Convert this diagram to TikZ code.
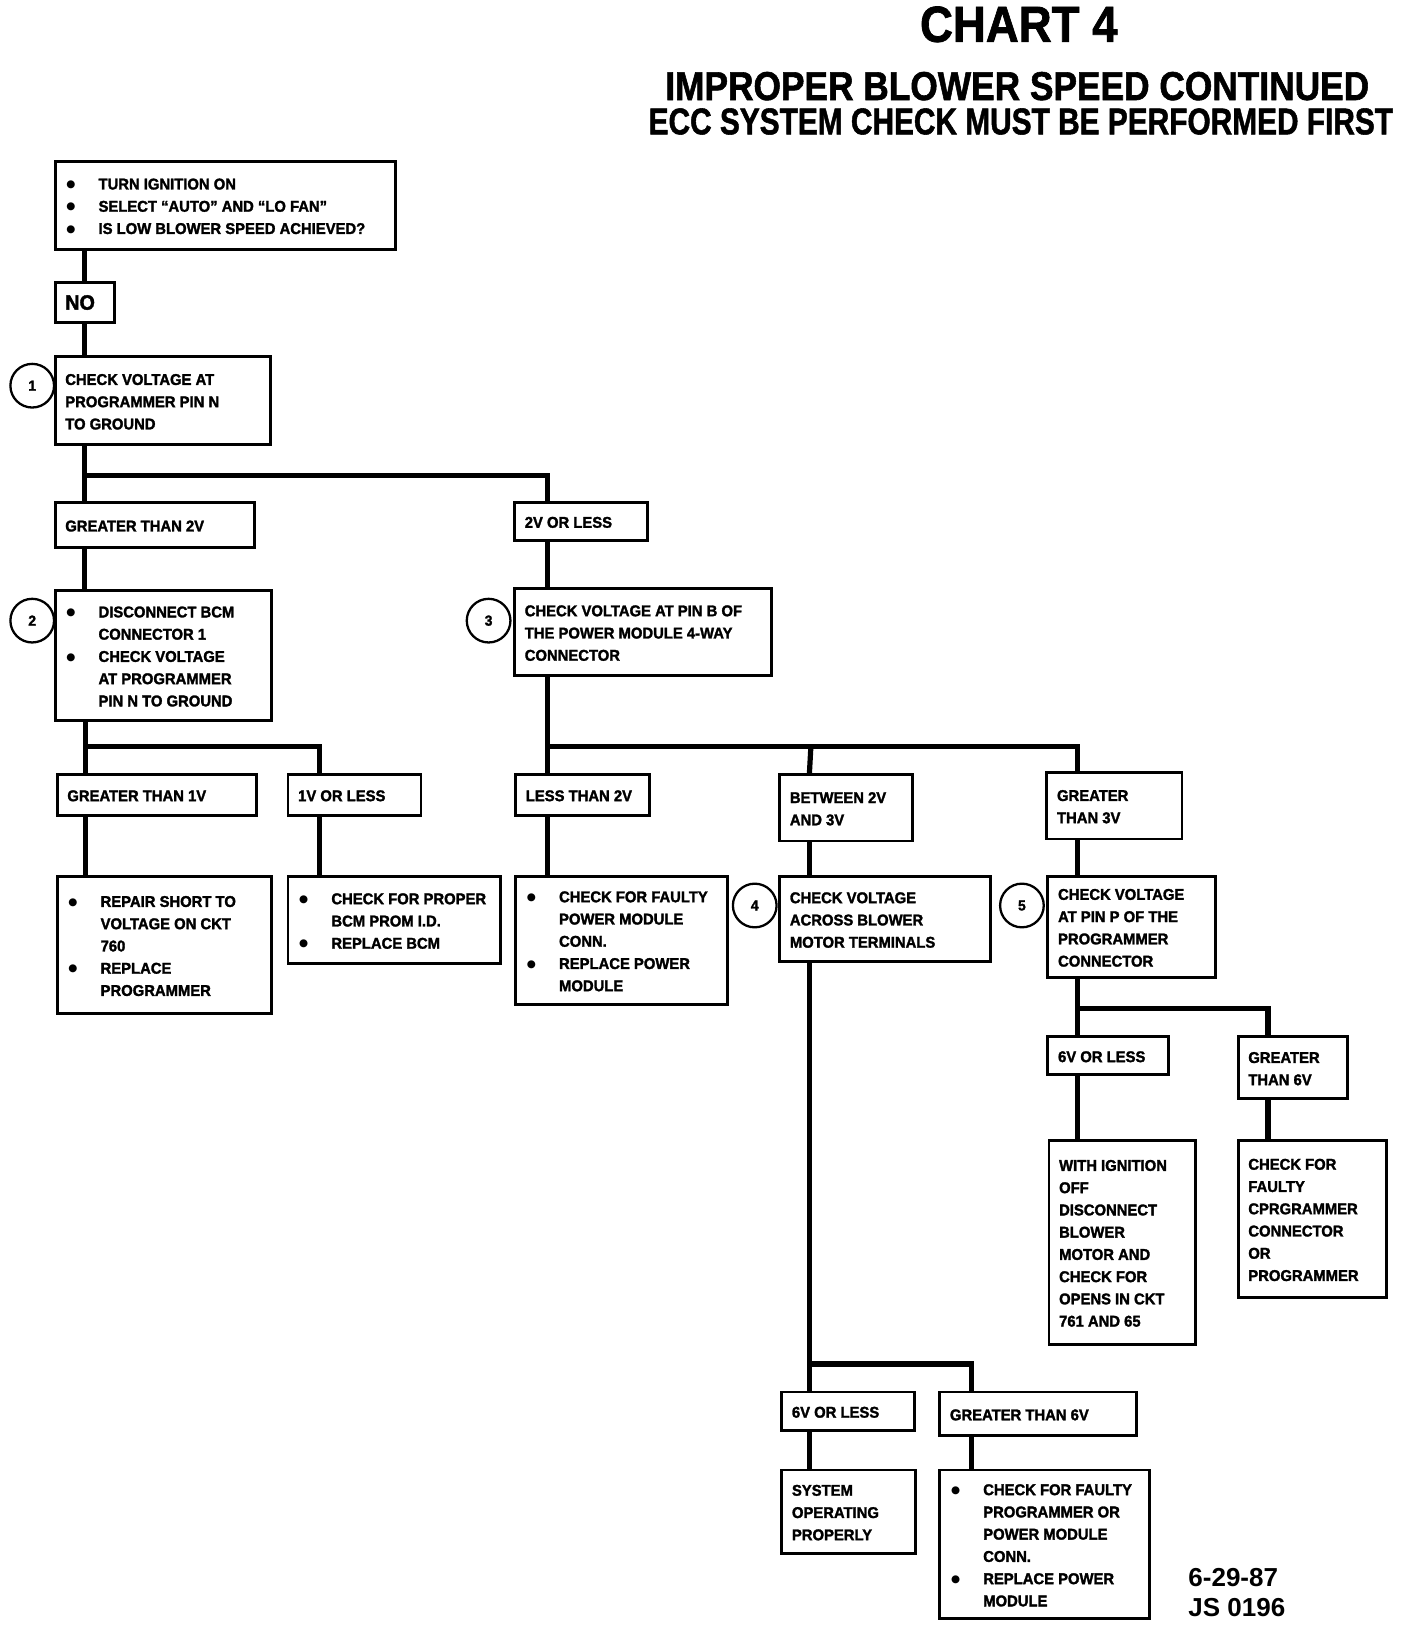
\documentclass[tikz,border=0pt]{standalone}
\usepackage{fontspec}
\usepackage{graphicx}
\newfontfamily\bxf[FakeStretch=0.95,FakeBold=1.8]{Liberation Sans}
\newfontfamily\hdf[FakeBold=1.5]{Liberation Sans}
\newfontfamily\ftf{Liberation Sans}
\newfontfamily\djv{DejaVu Sans}
\newcommand\bul{\makebox[32pt][l]{\hspace{1pt}\raisebox{1.8pt}{\djv\fontsize{10}{10}\selectfont ●}}}
\newcommand\ind{\hspace*{32pt}}
\tikzset{
 box/.style={draw, line width=2.8pt, inner sep=0pt, fill=white},
 txt/.style={inner sep=0pt, align=left, anchor=west, font=\bxf\bfseries\fontsize{15}{21.4}\selectfont},
 conn/.style={line width=5pt},
 circ/.style={circle, draw, line width=2.2pt, minimum size=42pt, inner sep=0pt, fill=white, font=\bxf\bfseries\fontsize{14}{14}\selectfont},
 foot/.style={anchor=north west, inner sep=0pt, font=\ftf\bfseries\fontsize{25}{25}\selectfont},
}
\newcommand\bx[6]{%
 \node[box, minimum width={(#4)-(#2)}, minimum height={(#5)-(#3)}] (#1) at ({((#2)+(#4))/2},{((#3)+(#5))/2}) {};
 \node[txt] (#1t) at ([xshift=11pt,yshift=-1pt]#1.west) {#6};
}
\begin{document}
\begin{tikzpicture}[x=1pt,y=-1pt]
\fill[white] (0,0) rectangle (1354,1566);
\useasboundingbox (0,0) rectangle (1354,1566);
% titles
\node[anchor=north, inner sep=0pt] (t1) at (980,6) {\resizebox{190pt}{34pt}{\hdf\bfseries CHART 4}};
\node[anchor=north, inner sep=0pt] (t2) at (978.5,69) {\resizebox{677pt}{27pt}{\hdf\bfseries IMPROPER BLOWER SPEED CONTINUED}};
\node[anchor=north, inner sep=0pt] (t3) at (982,104) {\resizebox{716pt}{25pt}{\hdf\bfseries ECC SYSTEM CHECK MUST BE PERFORMED FIRST}};
% boxes
\bx{A}{53}{155}{380}{240}{\bul TURN IGNITION ON\\ \bul SELECT “AUTO” AND “LO FAN”\\ \bul IS LOW BLOWER SPEED ACHIEVED?}
\node[box, minimum width=57pt, minimum height=38pt] (NO) at (81.5,291) {};
\node[txt, font=\bxf\bfseries\fontsize{20}{20}\selectfont] (NOt) at ([xshift=11pt]NO.west) {NO};
\bx{B1}{53}{343}{260}{428}{CHECK VOLTAGE AT\\ PROGRAMMER PIN N\\ TO GROUND}
\bx{G2}{53}{483}{245}{527}{GREATER THAN 2V}
\bx{L2}{495}{483}{623}{520}{2V OR LESS}
\bx{B2}{53}{568}{261}{693}{\bul DISCONNECT BCM\\ \ind CONNECTOR 1\\ \bul CHECK VOLTAGE\\ \ind AT PROGRAMMER\\ \ind PIN N TO GROUND}
\bx{B3}{495}{566}{742}{650}{CHECK VOLTAGE AT PIN B OF\\ THE POWER MODULE 4-WAY\\ CONNECTOR}
\bx{G1}{55}{745}{247}{784}{GREATER THAN 1V}
\bx{L1}{277}{745}{405}{784}{1V OR LESS}
\bx{R1}{55}{843}{261}{975}{\bul REPAIR SHORT TO\\ \ind VOLTAGE ON CKT\\ \ind 760\\ \bul REPLACE\\ \ind PROGRAMMER}
\bx{R2}{277}{843}{481}{927}{\bul CHECK FOR PROPER\\ \ind BCM PROM I.D.\\ \bul REPLACE BCM}
\bx{LT2}{496}{745}{625}{784}{LESS THAN 2V}
\bx{BT}{750}{745}{878}{809}{BETWEEN 2V\\ AND 3V}
\bx{GT3}{1007}{743}{1137}{807}{GREATER\\ THAN 3V}
\bx{P}{496}{843}{700}{966}{\bul CHECK FOR FAULTY\\ \ind POWER MODULE\\ \ind CONN.\\ \bul REPLACE POWER\\ \ind MODULE}
\bx{B4}{750}{843}{953}{925}{CHECK VOLTAGE\\ ACROSS BLOWER\\ MOTOR TERMINALS}
\bx{B5}{1008}{843}{1169}{940}{CHECK VOLTAGE\\ AT PIN P OF THE\\ PROGRAMMER\\ CONNECTOR}
\bx{L6a}{1008}{997}{1124}{1034}{6V OR LESS}
\bx{G6a}{1191}{997}{1296}{1057}{GREATER\\ THAN 6V}
\bx{W}{1009}{1097}{1150}{1293}{WITH IGNITION\\ OFF\\ DISCONNECT\\ BLOWER\\ MOTOR AND\\ CHECK FOR\\ OPENS IN CKT\\ 761 AND 65}
\bx{C}{1191}{1097}{1334}{1248}{CHECK FOR\\ FAULTY\\ CPRGRAMMER\\ CONNECTOR\\ OR\\ PROGRAMMER}
\bx{L6b}{752}{1339}{880}{1376}{6V OR LESS}
\bx{G6b}{904}{1339}{1093}{1381}{GREATER THAN 6V}
\bx{S}{752}{1414}{881}{1494}{SYSTEM\\ OPERATING\\ PROPERLY}
\bx{F}{904}{1414}{1106}{1557}{\bul CHECK FOR FAULTY\\ \ind PROGRAMMER OR\\ \ind POWER MODULE\\ \ind CONN.\\ \bul REPLACE POWER\\ \ind MODULE}
% circles
\node[circ] (c1) at (31,371) {1};
\node[circ] (c2) at (31,597) {2};
\node[circ] (c3) at (470,597) {3};
\node[circ] (c4) at (726,871) {4};
\node[circ] (c5) at (983,871) {5};
% junctions
\coordinate (j1) at (83,457);
\coordinate (j2) at (84,718);
\coordinate (j3) at (528,718);
\coordinate (j4) at (780,718);
\coordinate (j5) at (1038,970);
\coordinate (j6) at (780,1312);
% connectors
\draw[conn] ([xshift=30pt]A.south west) -- ([xshift=30pt]NO.north west);
\draw[conn] ([xshift=30pt]NO.south west) -- ([xshift=30pt]B1.north west);
\draw[conn] ([xshift=30pt]B1.south west) -- ([xshift=30pt]G2.north west);
\draw[conn] (j1) -| ([xshift=33pt]L2.north west);
\draw[conn] ([xshift=30pt]G2.south west) -- ([xshift=30pt]B2.north west);
\draw[conn] ([xshift=33pt]L2.south west) -- ([xshift=33pt]B3.north west);
\draw[conn] ([xshift=31pt]B2.south west) -- ([xshift=29pt]G1.north west);
\draw[conn] (j2) -| ([xshift=32pt]L1.north west);
\draw[conn] ([xshift=29pt]G1.south west) -- ([xshift=29pt]R1.north west);
\draw[conn] ([xshift=32pt]L1.south west) -- ([xshift=32pt]R2.north west);
\draw[conn] ([xshift=33pt]B3.south west) -- ([xshift=32pt]LT2.north west);
\draw[conn] (j3) -| ([xshift=31pt]GT3.north west);
\draw[conn] (j4) -- ([xshift=30pt]BT.north west);
\draw[conn] ([xshift=32pt]LT2.south west) -- ([xshift=32pt]P.north west);
\draw[conn] ([xshift=30pt]BT.south west) -- ([xshift=30pt]B4.north west);
\draw[conn] ([xshift=31pt]GT3.south west) -- ([xshift=30pt]B5.north west);
\draw[conn] ([xshift=30pt]B5.south west) -- ([xshift=30pt]L6a.north west);
\draw[conn] (j5) -| ([xshift=30pt]G6a.north west);
\draw[conn] ([xshift=30pt]L6a.south west) -- ([xshift=29pt]W.north west);
\draw[conn] ([xshift=30pt]G6a.south west) -- ([xshift=30pt]C.north west);
\draw[conn] ([xshift=30pt]B4.south west) -- ([xshift=28pt]L6b.north west);
\draw[conn] (j6) -| ([xshift=32pt]G6b.north west);
\draw[conn] ([xshift=28pt]L6b.south west) -- ([xshift=28pt]S.north west);
\draw[conn] ([xshift=32pt]G6b.south west) -- ([xshift=32pt]F.north west);
% footer
\node[foot] (d1) at (1143,1508) {6-29-87};
\node[foot] (d2) at (1143,1537) {JS 0196};
\end{tikzpicture}
\end{document}
